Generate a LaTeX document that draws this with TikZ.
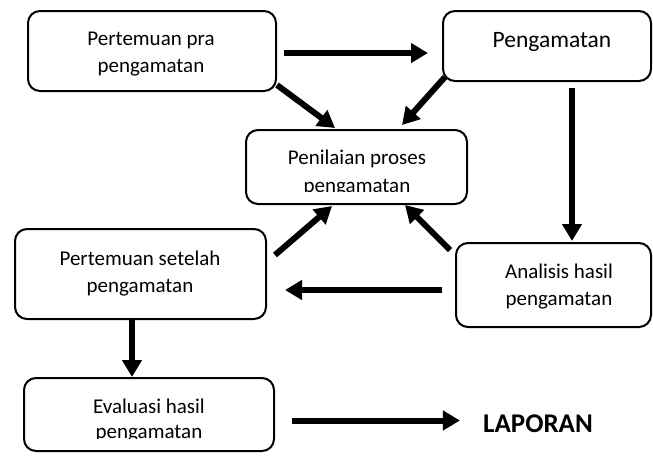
\documentclass[tikz,border=0pt]{standalone}
\usepackage{fontspec}
\setmainfont{Carlito}
\usetikzlibrary{arrows.meta,calc}
\tikzset{
  box/.style={draw, line width=2pt, rounded corners=12pt, inner sep=0pt},
  txt/.style={inner sep=0pt, anchor=base, font=\fontsize{21}{25}\selectfont},
  arr/.style={line width=6pt, -{Triangle[length=17pt,width=19pt]}},
}
\begin{document}
\begin{tikzpicture}[x=1pt,y=-1pt]
\useasboundingbox (0,0) rectangle (653,455);
% boxes
\node[box, minimum width=248pt, minimum height=80pt] (b1) at (152,51) {};
\node[box, minimum width=208pt, minimum height=70pt] (b2) at (547,46) {};
\node[box, minimum width=221pt, minimum height=74pt] (b3) at (356.5,167) {};
\node[box, minimum width=251pt, minimum height=90pt] (b4) at (140.5,274) {};
\node[box, minimum width=250pt, minimum height=73pt] (b5) at (149,414.5) {};
\node[box, minimum width=195pt, minimum height=84pt] (b6) at (553.5,285) {};
% texts
\node[txt] (t1a) at (151,45) {Pertemuan pra};
\node[txt] (t1b) at (151,72) {pengamatan};
\node[txt, font=\fontsize{23.5}{28}\selectfont] (t2) at (552,47) {Pengamatan};
\node[txt] (t3a) at (357,164) {Penilaian proses};
\begin{scope}
  \clip (240,170) rectangle (470,191);
  \node[txt] (t3b) at (357,192) {pengamatan};
\end{scope}
\node[txt] (t4a) at (140,265) {Pertemuan setelah};
\node[txt] (t4b) at (140,292) {pengamatan};
\node[txt] (t5a) at (149,413) {Evaluasi hasil};
\begin{scope}
  \clip (20,418) rectangle (280,438);
  \node[txt] (t5b) at (149,438) {pengamatan};
\end{scope}
\node[txt] (t6a) at (559,278) {Analisis hasil};
\node[txt] (t6b) at (559,305) {pengamatan};
\node[txt, font=\fontsize{27}{32}\selectfont\bfseries] (lap) at (538,432) {LAPORAN};
% arrows
\draw[arr] ($(b1.east)+(7,2)$) coordinate (a1s) -- (a1s -| b2.west) [shorten >=14pt];
\draw[arr] ($(b1.south east)+(0,-7)$) -- ($(b3.north west)+(90,-1)$);
\draw[arr] ($(b2.south west)+(3,-5)$) -- ($(b3.north east)+(-66,-4)$);
\draw[arr, shorten >=1pt] ($(b2.south)+(25,6)$) coordinate (a4s) -- (a4s |- b6.north);
\draw[arr] ($(b6.north west)+(-5,8)$) -- ($(b3.south east)+(-63,0)$);
\draw[arr, shorten >=18pt] ($(b6.west)+(-13,5)$) coordinate (a6s) -- (a6s -| b4.east);
\draw[arr] ($(b4.north east)+(8,27)$) -- ($(b3.south west)+(87,1)$);
\draw[arr] ($(b4.south)+(-8.5,0)$) coordinate (a8s) -- (a8s |- b5.north);
\draw[arr, shorten >=23pt] ($(b5.east)+(17,6)$) coordinate (a9s) -- (a9s -| lap.west);
\end{tikzpicture}
\end{document}
